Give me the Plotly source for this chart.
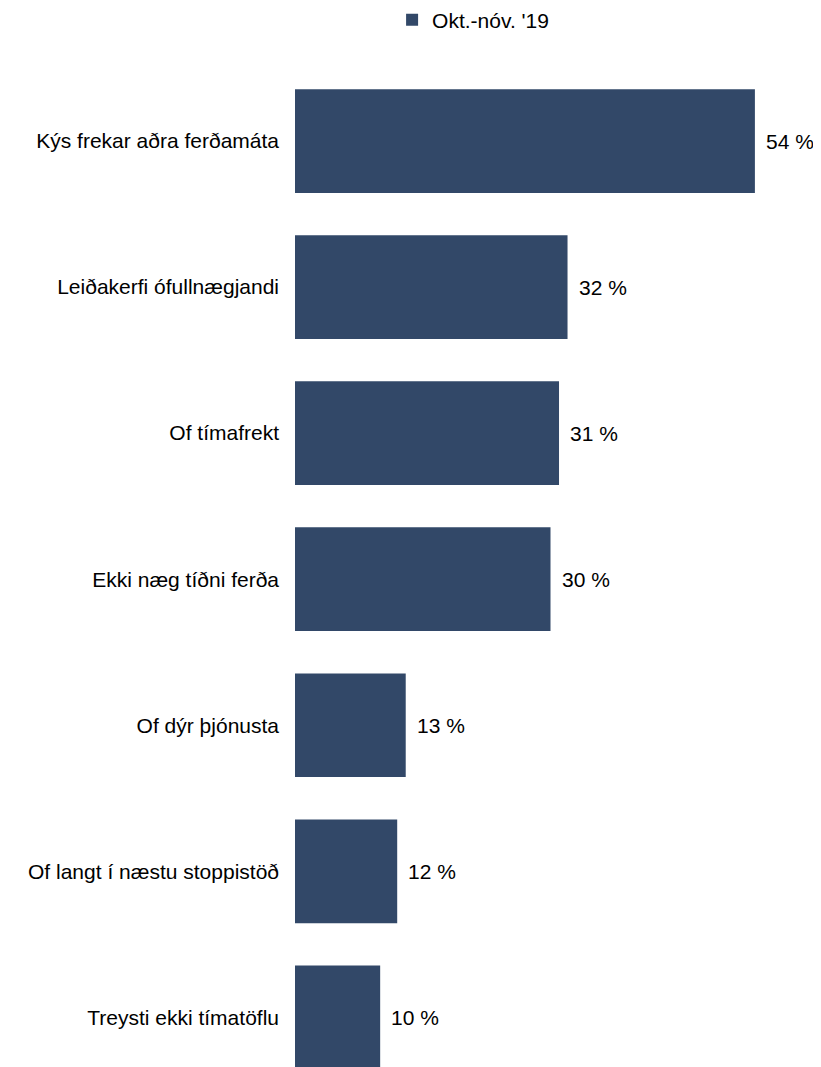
import plotly.graph_objects as go

categories = [
    "Kýs frekar aðra ferðamáta",
    "Leiðakerfi ófullnægjandi",
    "Of tímafrekt",
    "Ekki næg tíðni ferða",
    "Of dýr þjónusta",
    "Of langt í næstu stoppistöð",
    "Treysti ekki tímatöflu",
]
values = [54, 32, 31, 30, 13, 12, 10]
series_name = "Okt.-nóv. '19"
bar_color = "#324868"
font_family = "Liberation Sans, Arial, sans-serif"
fs = 21

fig = go.Figure()
fig.add_trace(go.Bar(
    y=categories,
    x=values,
    orientation="h",
    name=series_name,
    marker=dict(color=bar_color, line=dict(width=0)),
    showlegend=True,
))

for c, v in zip(categories, values):
    fig.add_annotation(
        x=v, y=c, xref="x", yref="y",
        text=f"{v} %", showarrow=False,
        xanchor="left", xshift=9,
        font=dict(family=font_family, size=fs, color="#000000"),
    )

fig.update_layout(
    width=813, height=1059,
    margin=dict(l=287, r=15, t=60, b=0, pad=0, autoexpand=False),
    paper_bgcolor="white", plot_bgcolor="white",
    bargap=0.29,
    font=dict(family=font_family, size=fs, color="#000000"),
    legend=dict(
        orientation="h", x=0.19, xanchor="left", y=1.048, yanchor="middle",
        font=dict(family=font_family, size=fs, color="#000000"),
        bgcolor="rgba(0,0,0,0)",
    ),
    xaxis=dict(range=[0, 60], visible=False, showgrid=False, zeroline=False),
    yaxis=dict(
        categoryorder="array", categoryarray=categories,
        range=[6.34, -0.5], showgrid=False, zeroline=False, showline=False,
        ticks="", ticklabelstandoff=15,
        tickfont=dict(family=font_family, size=fs, color="#000000"),
    ),
)

fig.write_html("out.html")
